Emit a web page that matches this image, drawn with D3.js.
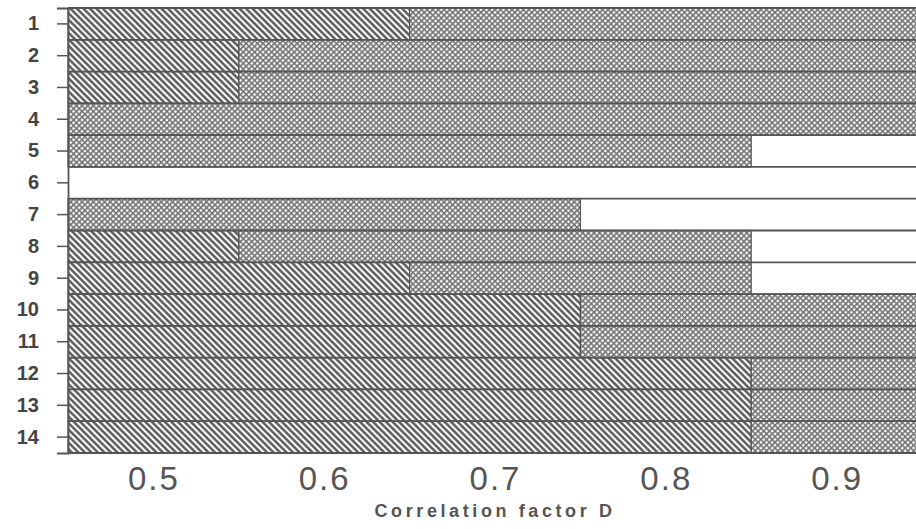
<!DOCTYPE html>
<html>
<head>
<meta charset="utf-8">
<script src="https://cdn.jsdelivr.net/npm/d3@7"></script>
<style>
  body { margin: 0; background: #fff; }
  svg { display: block; }
</style>
</head>
<body>
<div id='chart'></div>

<script>
  // rows of the chart, and where each shaded segment stops (correlation factor D)
  var rows = [1, 2, 3, 4, 5, 6, 7, 8, 9, 10, 11, 12, 13, 14]
  var startD = 0.45
  var hatchEnd = [0.65, 0.55, 0.55, 0.45, 0.45, 0.45, 0.45, 0.55, 0.65, 0.75, 0.75, 0.85, 0.85, 0.85]
  var crossEnd = [0.95, 0.95, 0.95, 0.95, 0.85, 0.45, 0.75, 0.85, 0.85, 0.95, 0.95, 0.95, 0.95, 0.95]
  var xTicks = [0.5, 0.6, 0.7, 0.8, 0.9]
  var xTitle = 'Correlation factor D'

  var width = 916, height = 529

  svg = d3.select('#chart')
          .append('svg')
          .attr('width', width)
          .attr('height', height)

  var defs = svg.append('defs')

  var hatch = defs.append('pattern')
                  .attr('id', 'hatch')
                  .attr('patternUnits', 'userSpaceOnUse')
                  .attr('width', 4.6)
                  .attr('height', 4.6)
                  .attr('patternTransform', 'rotate(45)')
  hatch.append('rect').attr('width', 4.6).attr('height', 4.6).attr('fill', '#fff')
  hatch.append('line')
       .attr('x1', 0).attr('x2', 4.6).attr('y1', 2.3).attr('y2', 2.3)
       .attr('stroke', '#555').attr('stroke-width', 2.4)

  var cross = defs.append('pattern')
                  .attr('id', 'cross')
                  .attr('patternUnits', 'userSpaceOnUse')
                  .attr('width', 4)
                  .attr('height', 4)
                  .attr('patternTransform', 'rotate(45)')
  cross.append('rect').attr('width', 4).attr('height', 4).attr('fill', '#fff')
  cross.append('path')
       .attr('d', 'M0,0.8H4M0.8,0V4')
       .attr('stroke', '#707070').attr('stroke-width', 1.6)

  var x = d3.scaleLinear()
            .domain([0.45, 0.95])
            .range([68, 922])

  var y = d3.scaleBand()
            .domain(rows)
            .range([8, 453])
            .padding(0)

  var data = rows.map(function(r, i) {
    return { row: r, hatch: hatchEnd[i], cross: crossEnd[i] }
  })

  var g = svg.append('g')

  // hatched segment
  g.selectAll('rect.hatch')
   .data(data.filter(function(d) { return d.hatch > startD }))
   .enter()
   .append('rect')
   .classed('hatch', true)
   .attr('x', x(startD))
   .attr('y', function(d) { return y(d.row) })
   .attr('width', function(d) { return x(d.hatch) - x(startD) })
   .attr('height', y.bandwidth())
   .attr('fill', 'url(#hatch)')
   .attr('stroke', '#555')
   .attr('stroke-width', 1.2)

  // cross-hatched segment
  g.selectAll('rect.cross')
   .data(data.filter(function(d) { return d.cross > d.hatch }))
   .enter()
   .append('rect')
   .classed('cross', true)
   .attr('x', function(d) { return x(d.hatch) })
   .attr('y', function(d) { return y(d.row) })
   .attr('width', function(d) { return x(d.cross) - x(d.hatch) })
   .attr('height', y.bandwidth())
   .attr('fill', 'url(#cross)')
   .attr('stroke', '#555')
   .attr('stroke-width', 1.2)

  // row outlines across the full width
  g.selectAll('line.row')
   .data(rows.concat([null]))
   .enter()
   .append('line')
   .classed('row', true)
   .attr('x1', x(startD))
   .attr('x2', x(0.95))
   .attr('y1', function(d) { return d === null ? y.range()[1] : y(d) })
   .attr('y2', function(d) { return d === null ? y.range()[1] : y(d) })
   .attr('stroke', '#555')
   .attr('stroke-width', 1.8)

  // y axis
  var yAxis = svg.append('g')
                 .attr('transform', 'translate(' + x(startD) + ',0)')
                 .call(d3.axisLeft(y).tickSize(11).tickPadding(18))
  yAxis.select('.domain').attr('stroke', '#555').attr('stroke-width', 1.8)
  yAxis.selectAll('.tick line').attr('stroke', '#555').attr('stroke-width', 1.5)
  yAxis.selectAll('.tick text')
       .attr('fill', '#444')
       .style('font-family', 'Liberation Sans, Arial, sans-serif')
       .style('font-size', '20px')
       .style('font-weight', 'bold')

  // x axis
  var xAxis = svg.append('g')
                 .attr('transform', 'translate(0,' + y.range()[1] + ')')
                 .call(d3.axisBottom(x).tickValues(xTicks).tickSize(0).tickPadding(14).tickFormat(d3.format('.1f')))
  xAxis.select('.domain').remove()
  xAxis.selectAll('.tick text')
       .attr('fill', '#555')
       .style('font-family', 'Liberation Sans, Arial, sans-serif')
       .style('font-size', '33px')
       .style('letter-spacing', '2px')

  svg.append('text')
     .attr('x', 495)
     .attr('y', 517)
     .attr('text-anchor', 'middle')
     .attr('fill', '#555')
     .style('font-family', 'Liberation Sans, Arial, sans-serif')
     .style('font-size', '18px')
     .style('font-weight', 'bold')
     .style('letter-spacing', '3.6px')
     .text(xTitle)
</script>
</body>
</html>
